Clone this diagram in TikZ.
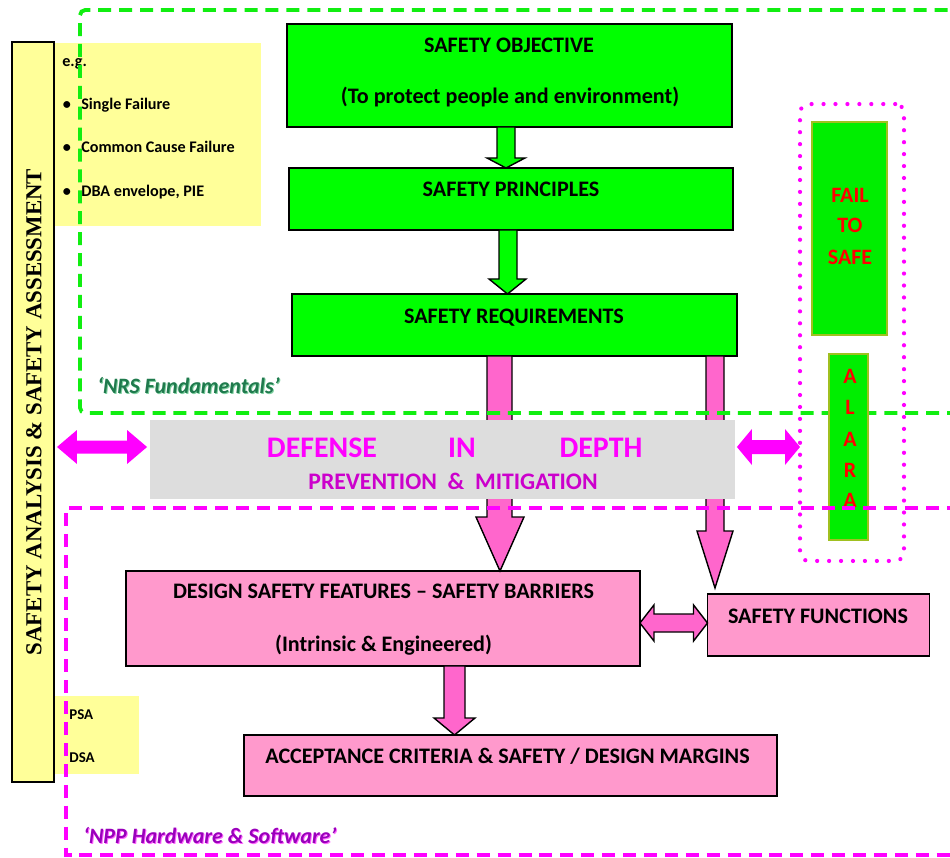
\documentclass[tikz,border=0pt]{standalone}
\usepackage{fontspec}
\setmainfont{Carlito}
\newfontfamily\timesbold{Liberation Serif}
\usepackage{tikz}
\usetikzlibrary{calc}
\definecolor{boxgreen}{HTML}{00FF00}
\definecolor{framegreen}{HTML}{11EE11}
\definecolor{alaragreen}{HTML}{00EE00}
\definecolor{alaraedge}{HTML}{A0C020}
\definecolor{paleyellow}{HTML}{FFFF99}
\definecolor{pinkfill}{HTML}{FF99CC}
\definecolor{arrowpink}{HTML}{FF66CC}
\definecolor{fuchsia}{HTML}{FF00FF}
\definecolor{darkfuchsia}{HTML}{CC00CC}
\definecolor{didgray}{HTML}{DDDDDD}
\definecolor{safered}{HTML}{FF0000}
\definecolor{nrstext}{HTML}{1F7A4D}
\definecolor{nrsshade}{HTML}{7FD0A0}
\definecolor{npptext}{HTML}{9900BB}
\definecolor{nppshade}{HTML}{FF66FF}

\begin{document}
\begin{tikzpicture}[x=0.02cm,y=-0.02cm,
	box/.style={draw=black,line width=1pt,inner sep=0pt,outer sep=0pt},
	greenbox/.style={box,fill=boxgreen},
	pinkbox/.style={box,fill=pinkfill},
	yellowbox/.style={fill=paleyellow,inner sep=0pt,outer sep=0pt},
	alarabox/.style={draw=alaraedge,line width=0.8pt,fill=alaragreen,inner sep=0pt,outer sep=0pt},
	txt/.style={anchor=base,inner sep=0pt,font=\bfseries\fontsize{12.6}{14}\selectfont},
	smalltxt/.style={anchor=base west,inner sep=0pt,font=\bfseries\fontsize{9.2}{11}\selectfont},
	redtxt/.style={txt,text=safered,font=\bfseries\fontsize{12.5}{14}\selectfont},
	didtxt/.style={txt,text=fuchsia,font=\bfseries\fontsize{17}{20}\selectfont},
	lbltxt/.style={anchor=base west,inner sep=0pt,font=\bfseries\itshape\fontsize{12.5}{14}\selectfont},
	greenarrow/.style={draw=black,line width=0.8pt,fill=boxgreen},
	pinkarrow/.style={draw=black,line width=0.8pt,fill=arrowpink},
	nrsframe/.style={draw=framegreen,line width=2.2pt,dash pattern=on 7.4pt off 4.5pt},
	nppframe/.style={draw=fuchsia,line width=2.2pt,dash pattern=on 7.4pt off 4.5pt},
	dotframe/.style={draw=fuchsia,line width=2.4pt,dash pattern=on 0pt off 6.8pt,line cap=round,rounded corners=5pt,inner sep=0pt,outer sep=0pt}]
	\useasboundingbox (0,0) rectangle (950,858);
	\clip (0,0) rectangle (950,858);

	% assessment bar and example boxes
	\node[yellowbox,draw=black,line width=1pt,minimum width=0.84cm,minimum height=14.8cm] (sab) at (33,412) {};
	\node[rotate=90,inner sep=0pt,font=\timesbold\bfseries\fontsize{13}{15}\selectfont] (sabt) at (34,412) {SAFETY ANALYSIS \& SAFETY ASSESSMENT};
	\node[yellowbox,minimum width=4.12cm,minimum height=3.66cm] (eg) at (158,134.5) {};
	\node[yellowbox,minimum width=1.68cm,minimum height=1.56cm] (psa) at (97,735) {};

	\node[smalltxt] (egt) at (62,67) {e.g.};
	\foreach [count=\i] \y/\t in {110/Single Failure,153/Common Cause Failure,197/{DBA envelope, PIE}}
		{\node[smalltxt,anchor=base] (egb\i) at (67,\y) {\textbullet};
		 \node[smalltxt] (egi\i) at (81,\y) {\t};}
	\node[smalltxt,font=\bfseries\fontsize{8.5}{10}\selectfont] (psat) at (69,719) {PSA};
	\node[smalltxt,font=\bfseries\fontsize{8.5}{10}\selectfont] (dsat) at (69,762) {DSA};

	% NRS fundamentals
	\node[greenbox,minimum width=8.9cm,minimum height=2.06cm] (obj) at (509.5,75.5) {};
	\node[greenbox,minimum width=8.88cm,minimum height=1.24cm] (prin) at (511,199) {};
	\node[greenbox,minimum width=8.9cm,minimum height=1.24cm] (req) at (514.5,325) {};
	\node[txt] (objt) at (509,53) {SAFETY OBJECTIVE};
	\node[txt] (objs) at (510,104) {(To protect people and environment)};
	\node[txt] (print) at (511,197) {SAFETY PRINCIPLES};
	\node[txt] (reqt) at (514,323) {SAFETY REQUIREMENTS};

	\draw[greenarrow] (497,0 |- obj.south) -- (497,158) -- (487,158) -- (506,0 |- prin.north) -- (525,158) -- (515,158) -- (515,0 |- obj.south) -- cycle;
	\draw[greenarrow] (499,0 |- prin.south) -- (499,279) -- (489,279) -- (507.5,0 |- req.north) -- (526,279) -- (517,279) -- (517,0 |- prin.south) -- cycle;

	% NPP hardware and software
	\node[pinkbox,minimum width=10.28cm,minimum height=1.9cm] (design) at (383,618.5) {};
	\node[pinkbox,minimum width=4.44cm,minimum height=1.24cm] (func) at (818.5,625) {};
	\node[pinkbox,minimum width=10.66cm,minimum height=1.22cm] (accept) at (510.5,765.5) {};
	\node[txt] (dest) at (383.5,598) {DESIGN SAFETY FEATURES -- SAFETY BARRIERS};
	\node[txt] (dess) at (383.5,651) {(Intrinsic \& Engineered)};
	\node[txt] (funct) at (818,623) {SAFETY FUNCTIONS};
	\node[txt] (acct) at (507.5,763) {ACCEPTANCE CRITERIA \& SAFETY / DESIGN MARGINS};

	\coordinate (fntip) at (715,588);
	\draw[pinkarrow] (487,0 |- req.south) -- (487,517) -- (476,517) -- (500,0 |- design.north) -- (524,517) -- (512,517) -- (512,0 |- req.south) -- cycle;
	\draw[pinkarrow] (706,0 |- req.south) -- (706,531) -- (697,531) -- (fntip) -- (733,531) -- (724,531) -- (724,0 |- req.south) -- cycle;
	\draw[pinkarrow] (444,0 |- design.south) -- (444,718) -- (434,718) -- (454.5,0 |- accept.north) -- (475,718) -- (465,718) -- (465,0 |- design.south) -- cycle;

	% frames
	\draw[nrsframe,rounded corners=3pt] (960,413) -- (80,413) -- (80,10) -- (960,10);
	\node[lbltxt,text=nrsshade] at (98,394) {‘NRS Fundamentals’};
	\node[lbltxt,text=nrstext] (nrs) at (97,393) {‘NRS Fundamentals’};

	\node[alarabox,minimum width=1.5cm,minimum height=4.26cm] (fail) at (849.5,228.5) {};
	\node[alarabox,minimum width=0.78cm,minimum height=3.72cm] (alara) at (848.5,447) {};
	\node[redtxt] (failt1) at (850,203) {FAIL};
	\node[redtxt] (failt2) at (850,233) {TO};
	\node[redtxt] (failt3) at (850,265) {SAFE};
	\foreach [count=\i] \y/\c in {383/A,414/L,446/A,477/R,507/A}
		{\node[redtxt] (alarat\i) at (850,\y) {\c};}

	\draw[nppframe] (960,508) -- (66,508) -- (66,855) -- (960,855);
	\node[lbltxt,text=nppshade] at (84,844) {‘NPP Hardware \& Software’};
	\node[lbltxt,text=npptext] (npp) at (83,843) {‘NPP Hardware \& Software’};

	\node[dotframe,minimum width=2.08cm,minimum height=9.14cm] (fts) at (852,332.5) {};

	% defense in depth
	\node[fill=didgray,inner sep=0pt,outer sep=0pt,minimum width=11.7cm,minimum height=1.58cm] (did) at (442.5,459.5) {};
	\node[didtxt] (didt1) at (322,457) {DEFENSE};
	\node[didtxt] (didt2) at (462,457) {IN};
	\node[didtxt] (didt3) at (601,457) {DEPTH};
	\node[txt,text=darkfuchsia,font=\bfseries\fontsize{13.5}{15}\selectfont] (pmt) at (453,489) {PREVENTION\ \ \&\ \ MITIGATION};

	\coordinate (sabtip) at ($(sab.east |- 0,447)+(3,0)$);
	\coordinate (didtipl) at ($(did.west |- 0,447)+(-3,0)$);
	\coordinate (didtipr) at ($(did.east |- 0,447)+(2,0)$);
	\coordinate (ftstip) at (fts.west |- 0,447);
	\fill[fuchsia] (sabtip) -- ++(20,-17) -- ++(0,10.5) -- ($(didtipl)+(-20,-6.5)$) -- ++(0,-10.5) -- (didtipl) -- ++(-20,17) -- ++(0,-10.5) -- ($(sabtip)+(20,6.5)$) -- ++(0,10.5) -- cycle;
	\fill[fuchsia] (didtipr) -- ++(15,-18) -- ++(0,11) -- ($(ftstip)+(-15,-7)$) -- ++(0,-11) -- (ftstip) -- ++(-15,18) -- ++(0,-11) -- ($(didtipr)+(15,7)$) -- ++(0,11) -- cycle;

	\draw[pinkarrow] (design.east |- 0,623) -- ++(14,-18) -- ++(0,9) -- ($(func.west |- 0,623)+(-14,-9)$) -- ++(0,-9) -- (func.west |- 0,623) -- ++(-14,18) -- ++(0,-9) -- ($(design.east |- 0,623)+(14,9)$) -- ++(0,9) -- cycle;
\end{tikzpicture}
\end{document}
